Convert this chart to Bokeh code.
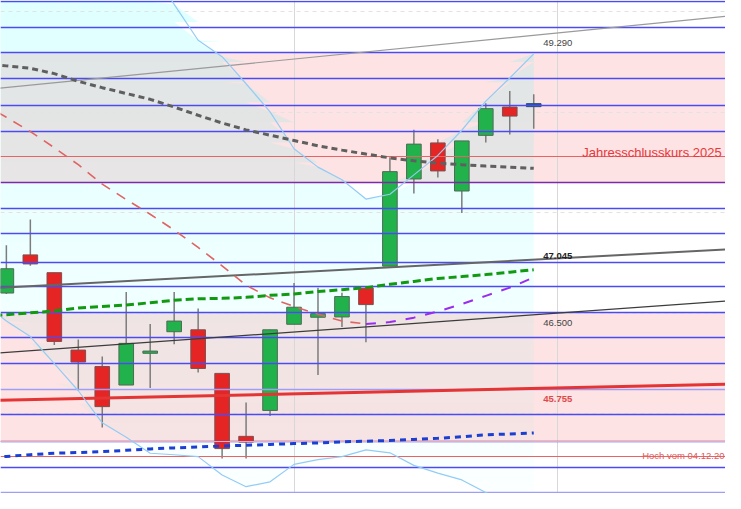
import numpy as np
from bokeh.plotting import figure
from bokeh.models import Range1d
from bokeh.embed import file_html
from bokeh.resources import INLINE
from bokeh.core.properties import value

# ---------------- data ----------------
bars = list(range(23))
opens = [46.700, 47.080, 46.903, 46.132, 45.968, 45.784, 46.100, 46.315, 46.334, 45.900, 45.273, 45.531,
         46.389, 46.459, 46.462, 46.749, 46.968, 47.836, 48.195, 47.716, 48.270, 48.552, 48.571]
closes = [46.942, 46.990, 46.218, 46.013, 45.569, 46.199, 46.122, 46.421, 45.949, 45.151, 45.216, 46.334,
          46.559, 46.495, 46.665, 46.585, 47.909, 48.183, 47.916, 48.215, 48.536, 48.462, 48.571]
highs = [47.176, 47.433, 46.903, 46.238, 46.067, 46.710, 46.392, 46.710, 46.546, 45.900, 45.611, 46.334,
         46.800, 46.752, 46.703, 46.758, 48.051, 48.327, 48.231, 48.215, 48.591, 48.713, 48.680]
lows = [46.690, 46.971, 46.183, 45.727, 45.360, 45.784, 45.755, 46.189, 45.910, 45.052, 45.052, 45.476,
        46.389, 45.884, 46.363, 46.209, 46.968, 47.691, 47.851, 47.498, 48.198, 48.279, 48.337]

# indicator lines (bar -1 .. 22)
ind_x = list(range(-1, 23))
ma_long = [48.980, 48.962, 48.938, 48.885, 48.808, 48.745, 48.687, 48.629, 48.552, 48.470, 48.393, 48.325,
           48.272, 48.219, 48.166, 48.123, 48.084, 48.046, 48.017, 47.993, 47.978, 47.964, 47.954, 47.942]
ma_mid = [48.590, 48.450, 48.308, 48.147, 47.978, 47.785, 47.631, 47.485, 47.327, 47.154, 46.971, 46.778,
          46.652, 46.566, 46.488, 46.421, 46.392, 46.411, 46.455, 46.517, 46.590, 46.672, 46.754, 46.855]
ma_green = [46.470, 46.484, 46.503, 46.522, 46.551, 46.566, 46.580, 46.604, 46.628, 46.643, 46.647, 46.657,
            46.677, 46.691, 46.715, 46.734, 46.754, 46.787, 46.816, 46.845, 46.864, 46.884, 46.908, 46.932]
ma_blue = [45.060, 45.073, 45.090, 45.105, 45.112, 45.121, 45.134, 45.148, 45.158, 45.167, 45.177, 45.184,
           45.193, 45.201, 45.208, 45.218, 45.225, 45.232, 45.242, 45.254, 45.269, 45.288, 45.297, 45.307]
bb_upper = [51.200, 51.000, 50.850, 50.700, 50.550, 50.400, 50.200, 49.950, 49.574, 49.217, 49.054, 48.784,
            48.504, 48.137, 47.954, 47.829, 47.636, 47.684, 47.877, 48.070, 48.321, 48.611, 48.841, 49.082]
bb_lower = [46.610, 46.421, 46.267, 45.997, 45.727, 45.408, 45.264, 45.105, 45.090, 45.071, 44.888, 44.772,
            44.820, 44.994, 45.042, 45.071, 45.138, 45.109, 44.984, 44.907, 44.839, 44.714, 44.600, 44.450]

# trend lines, value at bar -1 and bar 31
trend_x = [-1, 31]
trend_gray = [48.723, 49.479]
trend_dark = [46.743, 47.146]
trend_black = [46.091, 46.636]
trend_red = [45.628, 45.797]

# horizontal levels
blue_levels = [49.606, 49.346, 49.092, 48.838, 48.568, 48.311, 47.540, 47.289, 47.000, 46.768, 46.508,
               46.257, 45.997, 45.486, 45.225, 44.965]
purple_levels = [47.797]
lavender_levels = [45.736, 44.714]
jahresschluss = 48.057
hoch_level = 45.071
pink_zones_top = [49.092, 46.508]
pink_zones_bottom = [47.797, 45.225]
grid_levels = [49.5, 48.5, 47.5, 46.5, 45.5]
vlines = [12, 23]

label_bar = 23
label_values = ["49.290", "47.045", "46.500", "45.755"]
jahres_text = "Jahresschlusskurs 2025"
hoch_text = "Hoch vom 04.12.20"

# ---------------- figure ----------------
p = figure(width=725, height=493, x_range=Range1d(-0.245, 30.0), y_range=Range1d(44.704, 49.613),
           output_backend="svg", toolbar_location=None, x_axis_type=None, y_axis_type=None,
           min_border=0, outline_line_color=None, background_fill_color="white")

# pink zones
p.hstrip(y0=pink_zones_top, y1=pink_zones_bottom, fill_color="#fde3e3", line_color=None)

# band fill with vertical fade
xb = np.array(ind_x, dtype=float)
up = np.array(bb_upper)
lo = np.array(bb_lower)
edges = np.arange(44.6, 49.8001, 0.2)
for a, b in zip(edges[:-1], edges[1:]):
    mid = (a + b) / 2
    alpha = min(0.13, max(0.0, 0.04 + 0.0227 * (mid - 45.85)))
    p.varea(x=xb, y1=np.clip(lo, a, b), y2=np.clip(up, a, b), fill_color="#00ffff", fill_alpha=alpha)

# dashed grid
p.hspan(y=grid_levels, line_color="#e2e2e2", line_width=1, line_dash="4 4")
p.vspan(x=vlines, line_color="#d8d8d8", line_width=1)

# candles
o = np.array(opens); c = np.array(closes)
up_i = [i for i in bars if c[i] > o[i]]
dn_i = [i for i in bars if c[i] < o[i]]
fl_i = [i for i in bars if c[i] == o[i]]
p.segment(x0=bars, y0=lows, x1=bars, y1=highs, line_color="#7c7c7c", line_width=1.5)
p.vbar(x=up_i, width=0.61, bottom=[opens[i] for i in up_i], top=[closes[i] for i in up_i],
       fill_color="#22b24c", line_color="#4d6b55", line_width=1)
p.vbar(x=dn_i, width=0.61, top=[opens[i] for i in dn_i], bottom=[closes[i] for i in dn_i],
       fill_color="#e52424", line_color="#7d5050", line_width=1)
p.rect(x=fl_i, y=[opens[i] for i in fl_i], width=0.61, height=3, height_units="screen",
       fill_color="#1e5a8c", line_color="#2a4a6a", line_width=1)

# level lines
p.hspan(y=blue_levels, line_color="#4b4bf5", line_width=1.3)
p.hspan(y=[pink_zones_bottom[1] - 0.008], line_color="#f2a9a9", line_width=1)
p.hspan(y=purple_levels, line_color="#7d2aa8", line_width=1.6)
p.hspan(y=lavender_levels, line_color="#9e9ef7", line_width=1.6)
p.hspan(y=[jahresschluss, hoch_level], line_color="#e86464", line_width=1.2)

# trend lines
p.line(trend_x, trend_gray, line_color="#9a9a9a", line_width=1.2)
p.line(trend_x, trend_dark, line_color="#666666", line_width=2)
p.line(trend_x, trend_black, line_color="#3c3c3c", line_width=1.2)
p.line(trend_x, trend_red, line_color="#e53434", line_width=3)

# bands
p.line(ind_x, bb_upper, line_color="#92ccf5", line_width=1.2)
p.line(ind_x, bb_lower, line_color="#92ccf5", line_width=1.2)

# moving averages
p.line(ind_x, ma_long, line_color="#5f5f5f", line_width=3, line_dash="6 4")
p.line(ind_x[:17], ma_mid[:17], line_color="#e06464", line_width=1.6, line_dash="10 8")
p.line(ind_x[16:], ma_mid[16:], line_color="#9a2cf0", line_width=2, line_dash="10 10")
p.line(ind_x, ma_green, line_color="#119a11", line_width=3, line_dash="8 4")
p.line(ind_x, ma_blue, line_color="#1b3fd2", line_width=3, line_dash="6 5")

# labels
font = value("Liberation Sans")
lv = [float(v) for v in label_values]
p.text(x=[label_bar], y=[lv[0] - 0.097], text=[label_values[0]], text_font=font,
       text_font_size="9.5px", text_align="center", text_baseline="alphabetic", text_color="#444444")
p.text(x=[label_bar], y=[lv[1] + 0.027], text=[label_values[1]], text_font=font,
       text_font_size="9.5px", text_font_style="bold", text_align="center", text_baseline="alphabetic",
       text_color="#222222")
p.text(x=[label_bar], y=[lv[2] - 0.103], text=[label_values[2]], text_font=font,
       text_font_size="9.5px", text_align="center", text_baseline="alphabetic", text_color="#444444")
p.text(x=[label_bar], y=[lv[3] - 0.106], text=[label_values[3]], text_font=font,
       text_font_size="9.5px", text_font_style="bold", text_align="center", text_baseline="alphabetic",
       text_color="#e04848")
p.text(x=[29.84], y=[jahresschluss + 0.045], text=[jahres_text], text_font=font,
       text_font_size="13px", text_align="right", text_baseline="alphabetic", text_color="#e8383d")
p.text(x=[29.96], y=[hoch_level + 0.016], text=[hoch_text], text_font=font,
       text_font_size="9.5px", text_align="right", text_baseline="alphabetic", text_color="#e05a5a")

open("out.html", "w").write(file_html(p, INLINE))
